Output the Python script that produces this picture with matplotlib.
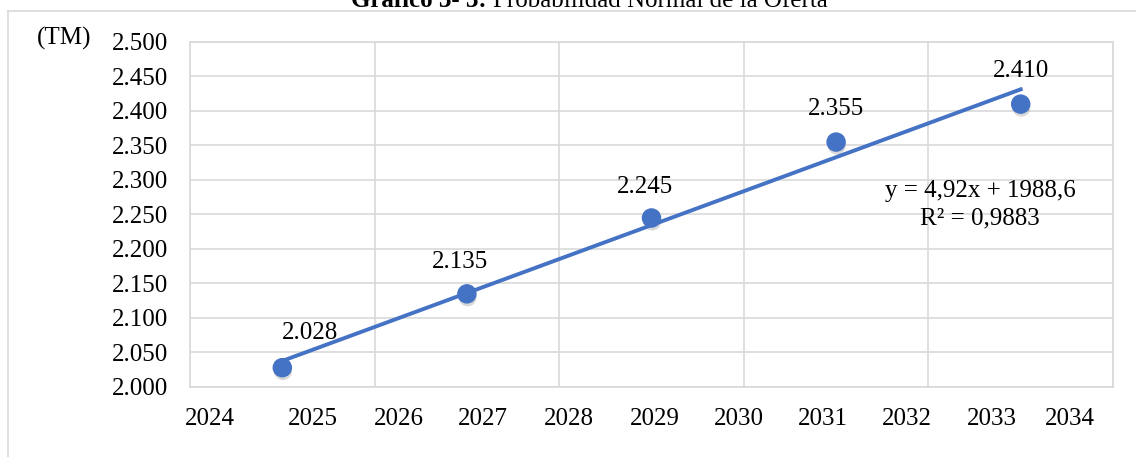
import numpy as np
import matplotlib
matplotlib.use("Agg")
import matplotlib.pyplot as plt
import matplotlib.patheffects as pe
from matplotlib.lines import Line2D
from matplotlib.ticker import MultipleLocator, FuncFormatter

plt.rcParams['font.family'] = ['Liberation Serif', 'DejaVu Serif']

# Datos (TM)
years = [2025, 2027, 2029, 2031, 2033]
oferta = [2028, 2135, 2245, 2355, 2410]
x_labels = [str(y) for y in range(2024, 2035)]
# posiciones de las etiquetas del eje x (no coinciden con la rejilla en el original)
x_label_pos = [2024.22, 2025.33, 2026.26, 2027.17, 2028.11, 2029.04,
               2029.95, 2030.86, 2031.77, 2032.69, 2033.53]
# desplazamiento de las etiquetas de datos, en pixeles
label_offsets = [(28, 35), (-7, 32), (-6, 31), (0, 33), (0, 33)]
eq_text = "y = 4,92x + 1988,6\nR² = 0,9883"

blue = '#4472C4'
grid_col = '#d9d9d9'
fs = 18

fig = plt.figure(figsize=(11.36, 4.57), dpi=100)
W, H = 1136, 457
ax = fig.add_axes([190 / W, 1 - 387 / H, 923 / W, 345 / H])

# marco exterior
fig.add_artist(Line2D([8 / W, 1.0], [1 - 11 / H, 1 - 11 / H], color=grid_col, lw=1.2))
fig.add_artist(Line2D([8 / W, 8 / W], [0, 1 - 11 / H], color=grid_col, lw=1.2))

# titulo (cortado en la parte superior, como en el original)
fig.text(487 / W, 1 - 7 / H, "Gráfico 3- 3:", ha='right', va='baseline',
         fontsize=fs, fontweight='bold')
fig.text(493 / W, 1 - 7 / H, "Probabilidad Normal de la Oferta", ha='left',
         va='baseline', fontsize=fs)

ax.plot(years, oferta, 'o', ms=13, color=blue, zorder=3,
        path_effects=[pe.SimplePatchShadow(offset=(0.5, -2.5), shadow_rgbFace='#808080',
                                           alpha=0.3), pe.Normal()])

# linea de tendencia lineal
coef = np.polyfit(years, oferta, 1)
xt = np.array([years[0], years[-1]])
ax.plot(xt, np.polyval(coef, xt), color=blue, lw=2.8, zorder=4)

for x, y, (dx, dy) in zip(years, oferta, label_offsets):
    ax.annotate(f"{y:,}".replace(',', '.'), (x, y), xytext=(dx, dy),
                textcoords='offset pixels', ha='center', va='center', fontsize=fs)

ax.text(2032.56, 2264, eq_text, ha='center', va='center', fontsize=fs,
        multialignment='center', linespacing=1.3)

ax.set_xlim(2024, 2034)
ax.set_ylim(2000, 2500)
ax.xaxis.set_major_locator(MultipleLocator(2))
ax.set_xticks(x_label_pos, x_labels, minor=True)
ax.yaxis.set_major_locator(MultipleLocator(50))
ax.yaxis.set_major_formatter(FuncFormatter(lambda v, p: f"{int(v):,}".replace(',', '.')))
ax.tick_params(axis='x', which='major', length=0, labelbottom=False)
ax.tick_params(axis='x', which='minor', length=0, pad=15, labelsize=fs)
ax.tick_params(axis='y', length=0, pad=16, labelsize=fs)

ax.grid(True, which='major', color=grid_col, lw=1.2)
ax.set_axisbelow(True)
for s in ax.spines.values():
    s.set_color(grid_col)
    s.set_linewidth(1.2)

fig.text(64 / W, 1 - 38 / H, "(TM)", ha='center', va='center', fontsize=fs)

fig.savefig("out.png", dpi=100)
